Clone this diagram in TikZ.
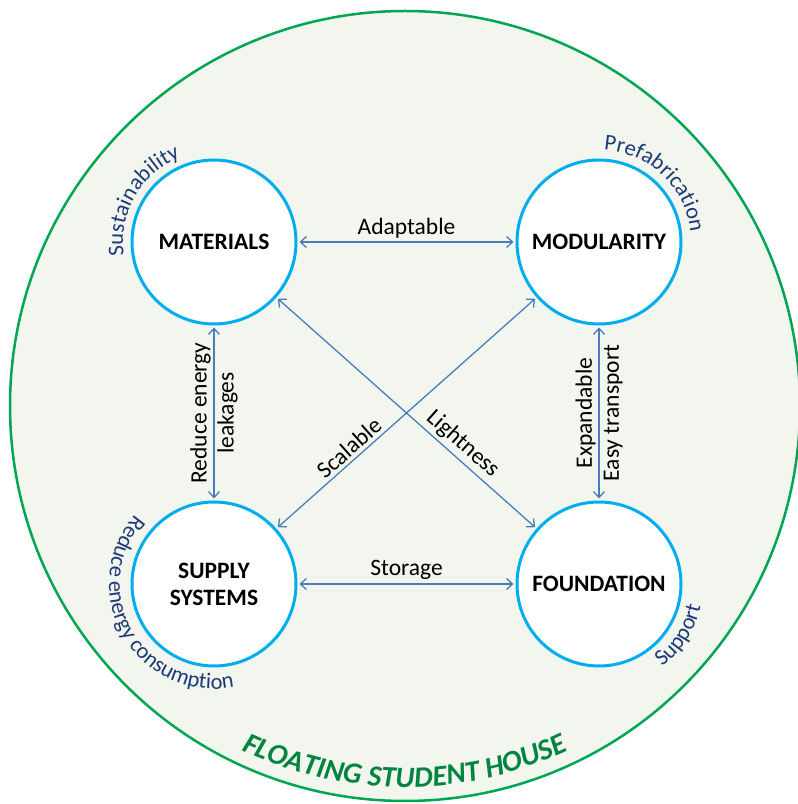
\documentclass[tikz,border=0pt]{standalone}
\usepackage{fontspec}
\setmainfont{Carlito}
\usetikzlibrary{arrows.meta,decorations.text}

\definecolor{housegreen}{HTML}{00A651}
\definecolor{titlegreen}{HTML}{00843F}
\definecolor{housefill}{HTML}{F2F6EE}
\definecolor{ringblue}{HTML}{00AEEF}
\definecolor{linkblue}{HTML}{4A7EBB}
\definecolor{notenavy}{HTML}{1F3A78}

\newcommand{\arcnote}{\color{notenavy}\fontsize{22.5}{26}\selectfont}
\newcommand{\arctitle}{\color{titlegreen}\fontsize{29.5}{34}\selectfont\bfseries\itshape}

\begin{document}
\begin{tikzpicture}[x=1pt, y=1pt,
  topic/.style={circle, draw=ringblue, line width=3pt, fill=white, minimum size=164pt,
    inner sep=0pt, align=center, font=\fontsize{23.5}{27}\selectfont\bfseries},
  link/.style={draw=linkblue, line width=1.3pt, shorten <=2pt, shorten >=2pt,
    {Straight Barb[length=6pt,width=11pt]}-{Straight Barb[length=6pt,width=11pt]}},
  lbl/.style={font=\fontsize{23.5}{27}\selectfont, text=black},
  arcnote/.style={decorate, decoration={text along path, text align=center, text={|\arcnote|#1}}}
]
\useasboundingbox (0,0) rectangle (798,804);

\node[circle, draw=housegreen, line width=2.5pt, fill=housefill, minimum size=790pt, inner sep=0pt] (house) at (405,398) {};

\node[topic] (materials) at (214,562) {MATERIALS};
\node[topic] (modularity) at (599,562) {MODULARITY};
\node[topic] (supply) at (214,220) {SUPPLY\\SYSTEMS};
\node[topic] (foundation) at (599,220) {FOUNDATION};

\draw[link] (materials) to node[lbl, above] {Adaptable} (modularity);
\draw[link] (supply) to node[lbl, above] {Storage} (foundation);
\draw[link] (materials) to node[lbl, rotate=90, align=center] {Reduce energy\\leakages} (supply);
\draw[link] (modularity) to node[lbl, rotate=90, align=center] {Expandable\\Easy transport} (foundation);
\draw[link] (materials) to node[lbl, pos=0.68, sloped, above] {Lightness} (foundation);
\draw[link] (supply) to node[lbl, pos=0.31, sloped, above] {Scalable} (modularity);

% words round the circles
\path[arcnote=Sustainability] ([shift={(210:91)}]materials.center) arc[start angle=210, end angle=90, radius=91];
\path[arcnote=Prefabrication] ([shift={(106:92)}]modularity.center) arc[start angle=106, end angle=-13, radius=92];
\path[arcnote=Reduce energy consumption] ([shift={(120:105)}]supply.center) arc[start angle=120, end angle=300, radius=105];
\path[arcnote=Support] ([shift={(-90:104)}]foundation.center) arc[start angle=-90, end angle=25, radius=104];

\path[decorate, decoration={text along path, text align=center, text={|\arctitle|FLOATING STUDENT HOUSE}}]
  ([shift={(-150:381)}]house.center) arc[start angle=-150, end angle=-30, radius=381];

\end{tikzpicture}
\end{document}
